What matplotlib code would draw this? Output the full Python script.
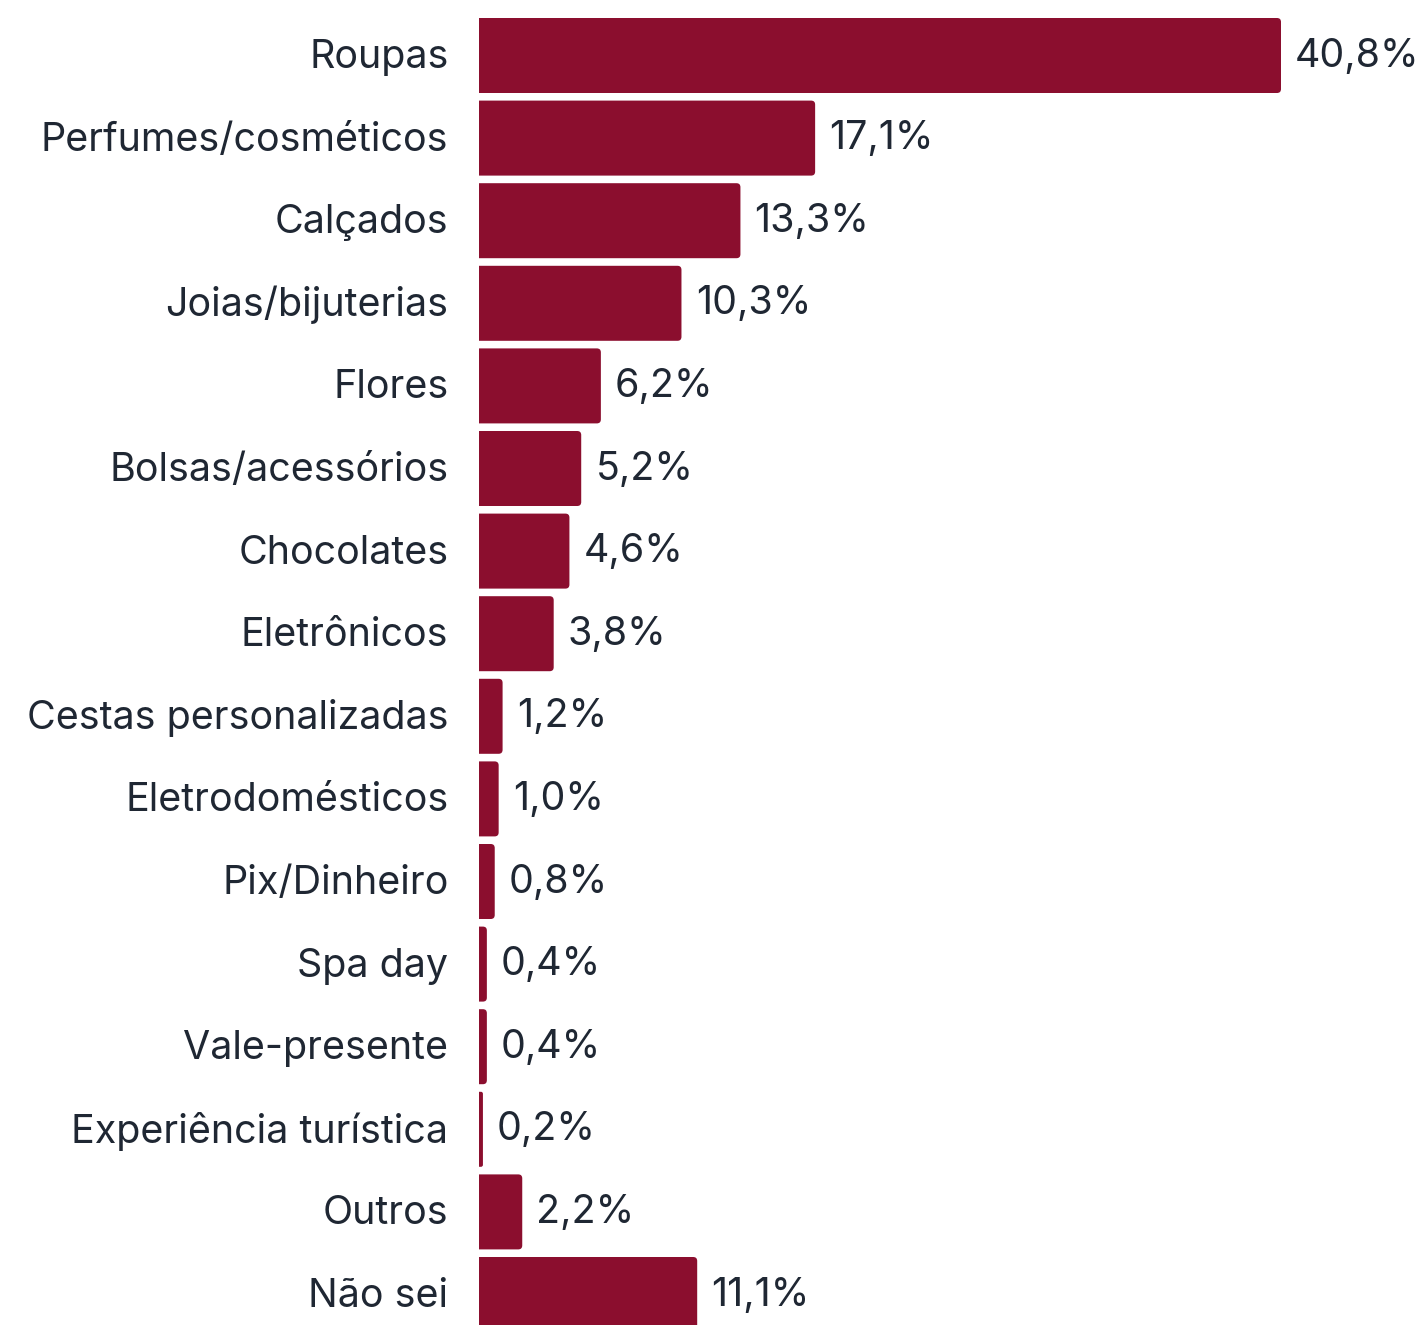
import matplotlib
matplotlib.use("Agg")
import matplotlib.pyplot as plt
from matplotlib.patches import FancyBboxPatch
import matplotlib.transforms as mtransforms

categories = ["Roupas", "Perfumes/cosméticos", "Calçados", "Joias/bijuterias", "Flores",
              "Bolsas/acessórios", "Chocolates", "Eletrônicos", "Cestas personalizadas",
              "Eletrodomésticos", "Pix/Dinheiro", "Spa day", "Vale-presente",
              "Experiência turística", "Outros", "Não sei"]
values = [40.8, 17.1, 13.3, 10.3, 6.2, 5.2, 4.6, 3.8, 1.2, 1.0, 0.8, 0.4, 0.4, 0.2, 2.2, 11.1]
value_labels = ["40,8%", "17,1%", "13,3%", "10,3%", "6,2%", "5,2%", "4,6%", "3,8%", "1,2%",
                "1,0%", "0,8%", "0,4%", "0,4%", "0,2%", "2,2%", "11,1%"]

plt.rcParams['font.family'] = ['Inter', 'DejaVu Sans']
W, H = 1427, 1325
fig = plt.figure(figsize=(W / 100, H / 100), dpi=100)
pitch = 82.6
top_px = 55.5 - pitch / 2
bottom_px = top_px + pitch * len(categories)
left_px = 479
ax = fig.add_axes([left_px / W, (H - bottom_px) / H, (W - left_px) / W, (bottom_px - top_px) / H])

color = "#8B0E2E"
text_color = "#1F2733"
fs = 28.4
scale = 802 / 40.8
xmax = (W - left_px) / scale
ax.set_xlim(0, xmax)
ax.set_ylim(len(categories) - 0.5, -0.5)

ypos = list(range(len(categories)))
bars = ax.barh(ypos, values, height=0.908, color=color)

# replace with rounded rectangles
rad_px = 4.0
x_per_px = xmax / (W - left_px)
y_per_px = len(categories) / (bottom_px - top_px)
for b in bars:
    x0, y0, w, h = b.get_x(), b.get_y(), b.get_width(), b.get_height()
    r = min(rad_px * x_per_px, w / 2)
    p = FancyBboxPatch((x0 - r, y0), w + r, h,
                       boxstyle=f"round,pad=0,rounding_size={r}",
                       mutation_aspect=y_per_px / x_per_px,
                       facecolor=color, edgecolor="none")
    ax.add_patch(p)
    b.set_visible(False)

for y, v, lab in zip(ypos, values, value_labels):
    ax.annotate(lab, (v, y), xytext=(10.2, -0.5), textcoords="offset points",
                va="center", ha="left", fontsize=fs, color=text_color)

ax.set_yticks(ypos)
ax.set_yticklabels(categories, fontsize=fs, color=text_color)
ax.tick_params(axis="y", length=0, pad=22)
shift = mtransforms.ScaledTranslation(0, 1.5 / 72, fig.dpi_scale_trans)
for t in ax.get_yticklabels():
    t.set_transform(t.get_transform() + shift)
ax.set_xticks([])
for s in ax.spines.values():
    s.set_visible(False)

fig.savefig("out.png", dpi=100)
